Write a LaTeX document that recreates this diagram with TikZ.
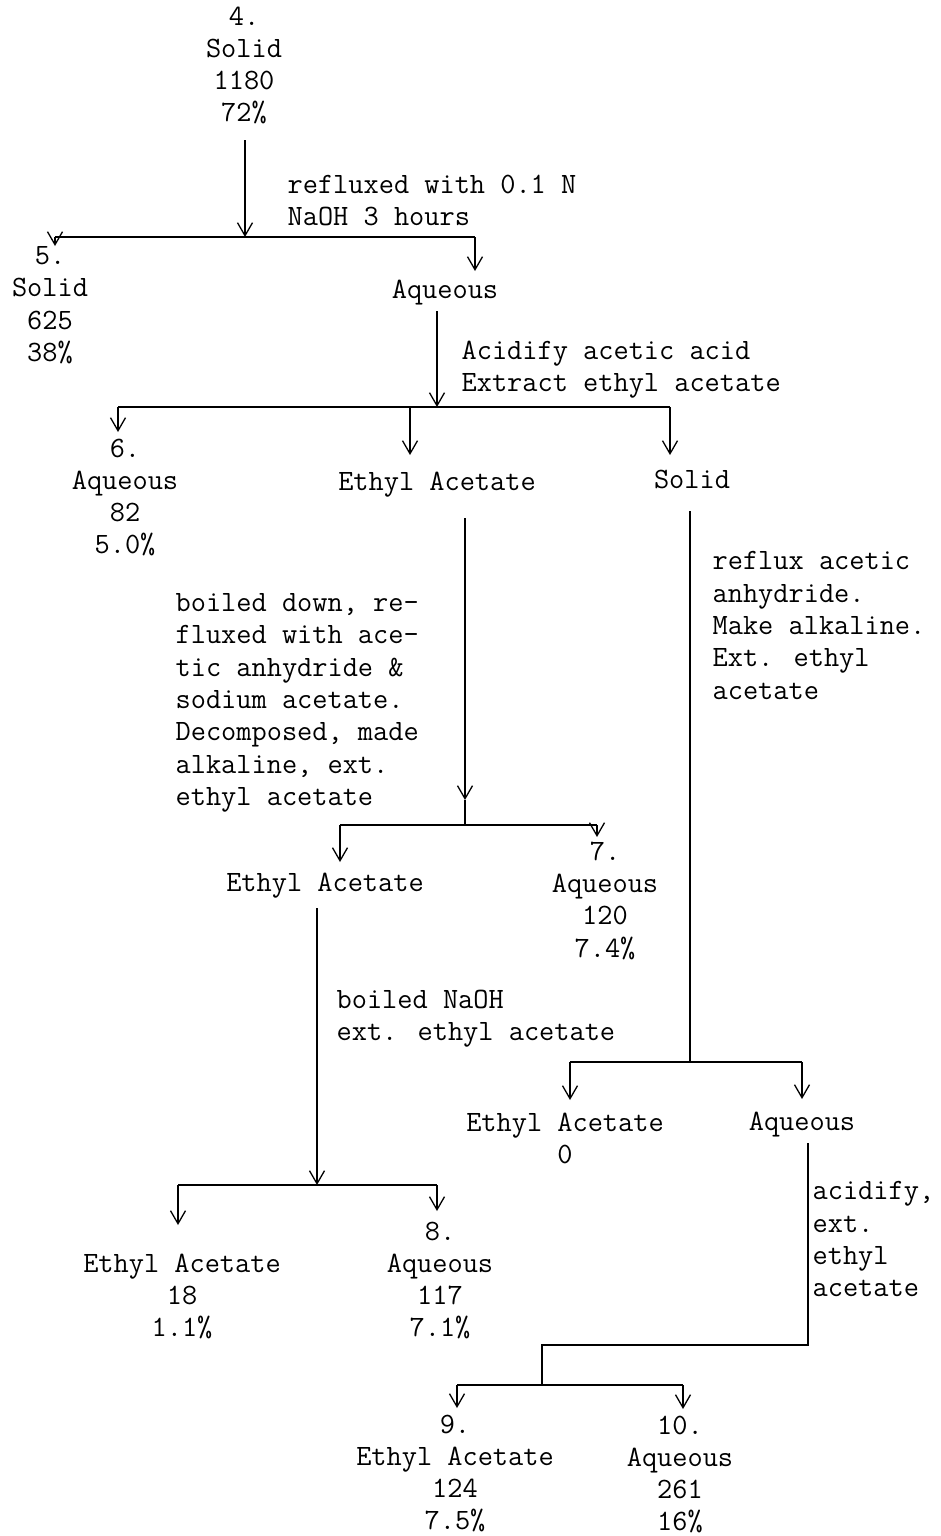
\documentclass[tikz,border=0pt]{standalone}
\usepackage{tikz}
\usetikzlibrary{
    arrows.meta,
    calc
}
\tikzset{
  txt/.style={font=\fontsize{29.5}{32.3}\selectfont\ttfamily, inner sep=0pt, anchor=north, align=center},
  note/.style={txt, anchor=north west, align=left},
  arr/.style={-{Straight Barb[length=13pt,width=15pt]}}
}
\begin{document}
\begin{tikzpicture}[x=1pt,y=-1pt,line width=1.3pt]
\useasboundingbox (0,0) rectangle (940,1536);

% Fractions
\node[txt] (n4) at (244,6) {4.\\Solid\\1180\\72\%};
\node[txt] (n5) at (50,246) {5.\\Solid\\625\\38\%};
\node[txt] (aq1) at (445,279) {Aqueous};
\node[txt] (n6) at (125,438) {6.\\Aqueous\\82\\5.0\%};
\node[txt] (ea1) at (437,471) {Ethyl Acetate};
\node[txt] (so1) at (692,469) {Solid};
\node[txt] (ea2) at (325,872) {Ethyl Acetate};
\node[txt] (n7) at (605,841) {7.\\Aqueous\\120\\7.4\%};
\node[txt] (ea4) at (565,1112) {Ethyl Acetate\\0};
\node[txt] (aq4) at (802,1111) {Aqueous};
\node[txt] (ea3) at (182,1253) {Ethyl Acetate\\18\\1.1\%};
\node[txt] (n8) at (440,1221) {8.\\Aqueous\\117\\7.1\%};
\node[txt] (n9) at (455,1414) {9.\\Ethyl Acetate\\124\\7.5\%};
\node[txt] (n10) at (680,1415) {10.\\Aqueous\\261\\16\%};

% Treatments
\node[note] (t1) at (287,174) {refluxed with 0.1 N\\NaOH 3 hours};
\node[note] (t2) at (461,340) {Acidify acetic acid\\Extract ethyl acetate};
\node[note] (t3) at (175,593) {boiled down, re-\\fluxed with ace-\\tic anhydride \&\\sodium acetate.\\Decomposed, made\\alkaline, ext.\\ethyl acetate};
\node[note] (t4) at (712,551) {reflux acetic\\anhydride.\\Make alkaline.\\Ext. ethyl\\acetate};
\node[note] (t5) at (336,989) {boiled NaOH\\ext. ethyl acetate};
\node[note] (t6) at (812,1181) {acidify,\\ext.\\ethyl\\acetate};

% First split
\coordinate (j1) at (245,237);
\coordinate (j1l) at (55,237);
\coordinate (j1r) at (475,237);
\draw[arr] ($(n4.south -| j1)+(0,15)$) -- (j1);
\draw (j1l) -- (j1r);
\draw[arr] (j1l) -- (n5.north -| j1l);
\draw[arr] (j1r) -- ($(aq1.north -| j1r)+(0,-8)$);

% Aqueous split
\coordinate (j2) at (437,407);
\coordinate (j2l) at (118,407);
\coordinate (j2m) at (410,407);
\coordinate (j2r) at (670,407);
\draw[arr] ($(aq1.south -| j2)+(0,6)$) -- (j2);
\draw (j2l) -- (j2r);
\draw[arr] (j2l) -- ($(n6.north -| j2l)+(0,-6)$);
\draw[arr] (j2m) -- ($(ea1.north -| j2m)+(0,-16)$);
\draw[arr] (j2r) -- ($(so1.north -| j2r)+(0,-14)$);

% Ethyl acetate branch
\coordinate (m3) at (465,800);
\coordinate (j3) at (465,825);
\coordinate (j3l) at (340,825);
\coordinate (j3r) at (597,825);
\draw[arr] ($(ea1.south -| j3)+(0,21)$) -- (m3);
\draw (m3) -- (j3);
\draw (j3l) -- (j3r);
\draw[arr] (j3l) -- ($(ea2.north -| j3l)+(0,-10)$);
\draw[arr] (j3r) -- ($(n7.north -| j3r)+(0,-4)$);

% Solid branch
\coordinate (j5) at (690,1062);
\coordinate (j5l) at (570,1062);
\coordinate (j5r) at (802,1062);
\draw ($(so1.south -| j5)+(0,22)$) -- (j5);
\draw (j5l) -- (j5r);
\draw[arr] (j5l) -- ($(ea4.north -| j5l)+(0,-12)$);
\draw[arr] (j5r) -- ($(aq4.north -| j5r)+(0,-12)$);

% Second ethyl acetate split
\coordinate (j4) at (317,1185);
\coordinate (j4l) at (178,1185);
\coordinate (j4r) at (437,1185);
\draw[arr] ($(ea2.south -| j4)+(0,10)$) -- (j4);
\draw (j4l) -- (j4r);
\draw[arr] (j4l) -- ($(ea3.north -| j4l)+(0,-28)$);
\draw[arr] (j4r) -- ($(n8.north -| j4r)+(0,-10)$);

% Last aqueous split
\coordinate (k6) at (808,1345);
\coordinate (j6) at (542,1385);
\coordinate (j6l) at (457,1385);
\coordinate (j6r) at (683,1385);
\draw ($(aq4.south -| k6)+(0,6)$) -- (k6) -| (j6);
\draw (j6l) -- (j6r);
\draw[arr] (j6l) -- ($(n9.north -| j6l)+(0,-6)$);
\draw[arr] (j6r) -- ($(n10.north -| j6r)+(0,-6)$);

\end{tikzpicture}
\end{document}
